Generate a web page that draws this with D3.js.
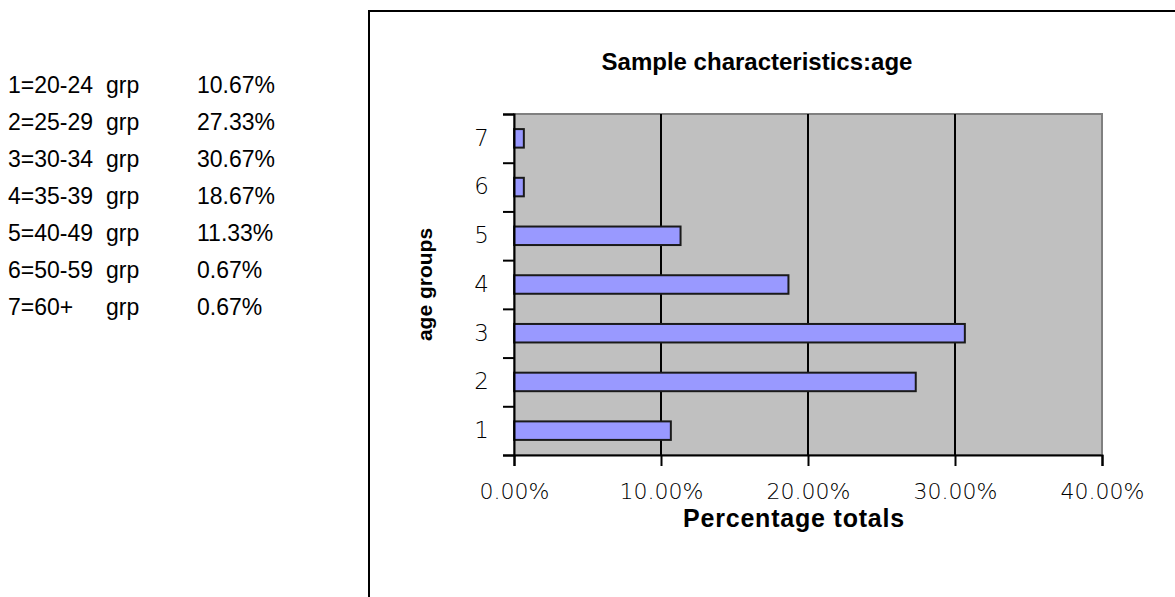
<!DOCTYPE html>
<html>
<head>
<meta charset="utf-8">
<script src="https://cdn.jsdelivr.net/npm/d3@7"></script>
<style>
  html, body { margin: 0; padding: 0; background: #fff; }
  svg { display: block; }
</style>
</head>
<body>
<svg id="chart" width="1175" height="597"></svg>
<script>
// Age group codes, their year ranges and share of the sample (%)
const groupCodes = ["1", "2", "3", "4", "5", "6", "7"];
const groupRanges = ["20-24", "25-29", "30-34", "35-39", "40-49", "50-59", "60+"];
const groupShares = [10.67, 27.33, 30.67, 18.67, 11.33, 0.67, 0.67];
const xTicks = [0, 10, 20, 30, 40];

const titleText = "Sample characteristics:age";
const xTitle = "Percentage totals";
const yTitle = "age groups";

const svg = d3.select("#chart");
const fmtPct = d => d.toFixed(2) + "%";

// ---- key table on the left ----
const legendFont = "'Liberation Sans', Arial, sans-serif";
const rowY = d3.scalePoint().domain(groupCodes).range([85, 307]);
const rows = svg.append("g")
  .attr("font-family", legendFont)
  .attr("font-size", 23)
  .attr("fill", "#000");
groupCodes.forEach((c, i) => {
  const y = rowY(c) + 8;
  rows.append("text").attr("x", 8).attr("y", y).text(c + "=" + groupRanges[i]);
  rows.append("text").attr("x", 106).attr("y", y).text("grp");
  rows.append("text").attr("x", 197).attr("y", y).text(fmtPct(groupShares[i]));
});

// ---- chart frame ----
svg.append("rect")
  .attr("x", 369).attr("y", 11)
  .attr("width", 900).attr("height", 700)
  .attr("fill", "#fff")
  .attr("stroke", "#000").attr("stroke-width", 2);

// ---- plot area ----
const plot = { left: 514, right: 1102, top: 114, bottom: 455 };

const x = d3.scaleLinear().domain([0, 40]).range([plot.left, plot.right]);
const y = d3.scaleBand().domain(groupCodes)
  .range([plot.bottom, plot.top])
  .paddingInner(0.62).paddingOuter(0.31);
// category boundaries for the tick marks between groups
const yEdge = d3.scaleLinear().domain([0, groupCodes.length]).range([plot.bottom, plot.top]);

svg.append("rect")
  .attr("x", plot.left).attr("y", plot.top)
  .attr("width", plot.right - plot.left).attr("height", plot.bottom - plot.top)
  .attr("fill", "#c0c0c0")
  .attr("stroke", "#808080").attr("stroke-width", 2);

// vertical gridlines
svg.append("g")
  .selectAll("line")
  .data(xTicks.filter(t => t > 0 && t < 40))
  .join("line")
  .attr("x1", d => x(d)).attr("x2", d => x(d))
  .attr("y1", plot.top).attr("y2", plot.bottom)
  .attr("stroke", "#000").attr("stroke-width", 2);

// bars
svg.append("g")
  .selectAll("rect")
  .data(groupCodes.map((c, i) => ({ c, v: groupShares[i] })))
  .join("rect")
  .attr("x", x(0))
  .attr("y", d => y(d.c))
  .attr("width", d => x(d.v) - x(0))
  .attr("height", y.bandwidth())
  .attr("fill", "#9999ff")
  .attr("stroke", "#1a1a1a").attr("stroke-width", 2);

// axes
const tickFont = "'DejaVu Sans', Verdana, sans-serif";

const xAxis = svg.append("g")
  .attr("transform", `translate(0,${plot.bottom})`)
  .call(d3.axisBottom(x).tickValues(xTicks).tickSize(11).tickPadding(17).tickFormat(fmtPct));
xAxis.select(".domain").attr("stroke", "#000").attr("stroke-width", 2);
xAxis.selectAll(".tick line").attr("stroke", "#000").attr("stroke-width", 2);
xAxis.selectAll(".tick text")
  .attr("font-family", tickFont).attr("font-size", 22).attr("font-weight", 200)
  .attr("fill", "#000");

const yTicks = svg.append("g")
  .attr("transform", `translate(${plot.left},0)`)
  .call(d3.axisLeft(yEdge).tickValues(d3.range(0, groupCodes.length + 1)).tickSize(11).tickFormat(""));
yTicks.select(".domain").attr("stroke", "#000").attr("stroke-width", 2);
yTicks.selectAll(".tick line").attr("stroke", "#000").attr("stroke-width", 2);

const yLabels = svg.append("g")
  .attr("transform", `translate(${plot.left},0)`)
  .call(d3.axisLeft(y).tickSize(0).tickPadding(25));
yLabels.select(".domain").remove();
yLabels.selectAll(".tick text")
  .attr("font-family", tickFont).attr("font-size", 23).attr("font-weight", 200)
  .attr("fill", "#000");

// titles
const boldFont = "'Liberation Sans', Arial, sans-serif";
svg.append("text")
  .attr("x", 757).attr("y", 70)
  .attr("text-anchor", "middle")
  .attr("font-family", boldFont).attr("font-weight", "bold")
  .attr("font-size", 24)
  .text(titleText);

svg.append("text")
  .attr("x", 794).attr("y", 527)
  .attr("text-anchor", "middle")
  .attr("font-family", boldFont).attr("font-weight", "bold")
  .attr("font-size", 25).attr("letter-spacing", 0.8)
  .text(xTitle);

svg.append("text")
  .attr("transform", `translate(432,${(plot.top + plot.bottom) / 2}) rotate(-90)`)
  .attr("text-anchor", "middle")
  .attr("font-family", boldFont).attr("font-weight", "bold")
  .attr("font-size", 21)
  .text(yTitle);
</script>
</body>
</html>
